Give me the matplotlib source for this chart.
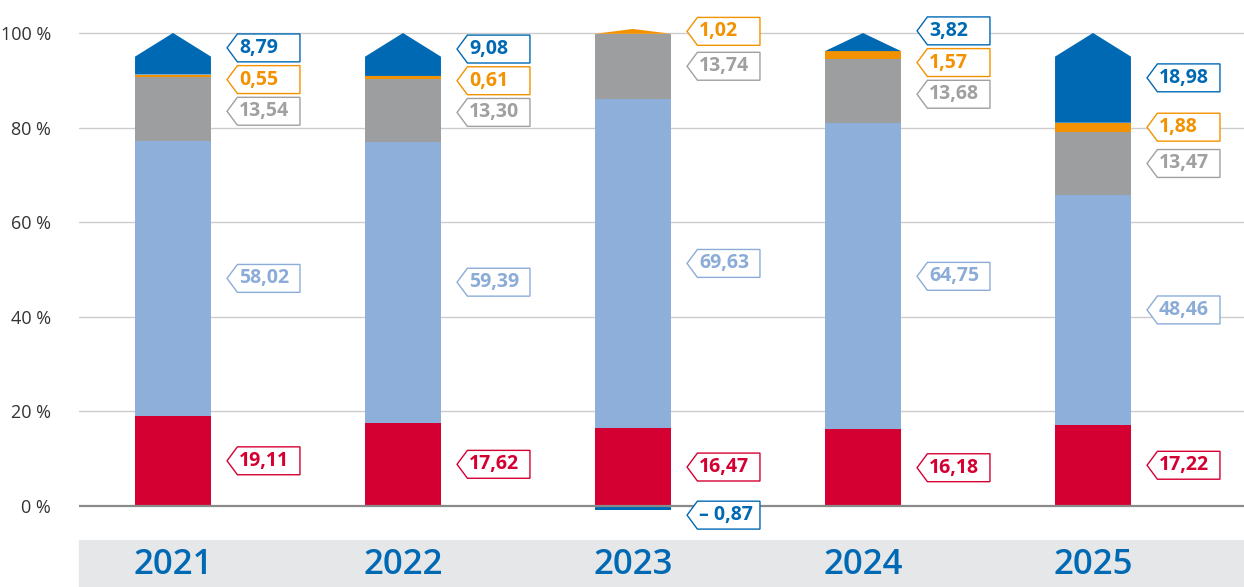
import numpy as np
import matplotlib.pyplot as plt
from matplotlib.patches import Polygon, Rectangle
from matplotlib.transforms import blended_transform_factory

years = ['2021', '2022', '2023', '2024', '2025']
red = [19.11, 17.62, 16.47, 16.18, 17.22]
lightblue = [58.02, 59.39, 69.63, 64.75, 48.46]
gray = [13.54, 13.30, 13.74, 13.68, 13.47]
orange = [0.55, 0.61, 1.02, 1.57, 1.88]
darkblue = [8.79, 9.08, -0.87, 3.82, 18.98]
yticks = [0, 20, 40, 60, 80, 100]

series = [red, lightblue, gray, orange, darkblue]
colors = ['#d50032', '#8dafd9', '#9d9e9f', '#f39200', '#0069b4']
text_colors = ['#d50032', '#8cacd8', '#a0a0a0', '#f39200', '#0069b4']

W, H = 1244, 587
fig = plt.figure(figsize=(W / 100, H / 100), dpi=100)
ax = fig.add_axes([79 / W, (H - 540) / H, 1 - 79 / W, 540 / H])
ax.set_xlim(-0.4087, 4.6565)
ax.set_ylim(-7.19, 106.98)
for s in ax.spines.values():
    s.set_visible(False)
ax.set_xticks([])
ax.set_yticks(yticks)
ax.set_yticklabels([str(t) + ' %' for t in yticks], fontsize=13, color='#333333',
                   family='Open Sans')
ax.tick_params(axis='y', length=0, pad=20)
for t in yticks[1:]:
    ax.axhline(t, color='#cccccc', lw=1, zorder=0)
ax.axhline(0, color='#8a8a8a', lw=1.6, zorder=3)

# grey band with the years
fig.patches.append(Rectangle((79 / W, 0), 1 - 79 / W, (H - 540) / H,
                             transform=fig.transFigure, color='#e6e7e9', zorder=-1))

bw = 0.33
cap = 5.0
gap = 6.7
x = np.arange(len(years))


def place(centers):
    # push overlapping labels apart, groups centred on mean of their anchors
    order = np.argsort(centers)
    groups = []
    for i in order:
        groups.append([[i], centers[i]])
        while len(groups) > 1:
            a, b = groups[-2], groups[-1]
            top_a = a[1] + (len(a[0]) - 1) / 2 * gap
            bot_b = b[1] - (len(b[0]) - 1) / 2 * gap
            if bot_b - top_a >= gap:
                break
            members = a[0] + b[0]
            mean = np.mean([centers[m] for m in members])
            groups = groups[:-2] + [[members, mean]]
    pos = {}
    for members, mean in groups:
        n = len(members)
        for k, m in enumerate(members):
            pos[m] = mean + (k - (n - 1) / 2) * gap
    return pos


def tag(xl, yc, txt, col):
    h = 5.9
    d = 0.045
    w = 0.317
    ax.add_patch(Polygon([(xl, yc), (xl + d, yc + h / 2), (xl + w, yc + h / 2),
                          (xl + w, yc - h / 2), (xl + d, yc - h / 2)],
                         closed=True, facecolor='white', edgecolor=col, lw=1, zorder=4))
    ax.text(xl + 0.052, yc, txt, color=col, fontsize=14, fontweight='bold',
            family='Open Sans', va='center', ha='left', zorder=5)


for i in range(len(years)):
    vals = [s[i] for s in series]
    pos_idx = [k for k, v in enumerate(vals) if v > 0]
    top_k = pos_idx[-1]
    base = 0.0
    centers = {}
    for k in pos_idx:
        v = vals[k]
        x0, x1 = x[i] - bw / 2, x[i] + bw / 2
        if k == top_k:
            c = min(cap, v)
            ax.add_patch(Polygon([(x0, base), (x1, base), (x1, base + v - c),
                                  (x[i], base + v), (x0, base + v - c)],
                                 closed=True, facecolor=colors[k], lw=0, zorder=2))
        else:
            ax.bar(x[i], v, bw, bottom=base, color=colors[k], lw=0, zorder=2)
        centers[k] = base + v / 2
        base += v
    keys = list(centers.keys())
    p = place(np.array([centers[k] for k in keys]))
    xl = x[i] + bw / 2 + 0.070
    for j, k in enumerate(keys):
        tag(xl, p[j], ('%.2f' % vals[k]).replace('.', ','), text_colors[k])
    for k, v in enumerate(vals):
        if v < 0:
            ax.bar(x[i], v, bw, bottom=0, color=colors[k], lw=0, zorder=2)
            tag(xl, v / 2 - 1.5, '\u2013 ' + ('%.2f' % -v).replace('.', ','), text_colors[k])

trans = blended_transform_factory(ax.transData, fig.transFigure)
for i, yr in enumerate(years):
    ax.text(x[i], 22.5 / H, yr, transform=trans, ha='center', va='center',
            fontsize=25, fontweight='semibold', color='#0069b4', family='Open Sans',
            clip_on=False)

fig.savefig('out.png', dpi=100)
